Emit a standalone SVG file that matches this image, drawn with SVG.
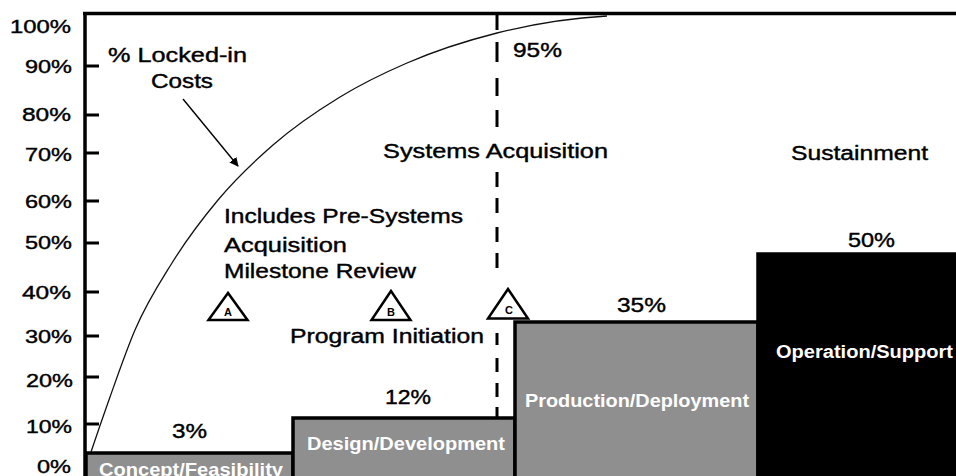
<svg xmlns="http://www.w3.org/2000/svg" width="956" height="476" viewBox="0 0 956 476">
<style>
.ax{font-family:"Liberation Sans",Arial,sans-serif;font-size:19px;fill:#000;stroke:#000;stroke-width:0.4}
.lb{font-family:"Liberation Sans",Arial,sans-serif;font-size:20px;fill:#000;stroke:#000;stroke-width:0.4}
.bl{font-family:"Liberation Sans",Arial,sans-serif;font-weight:bold;fill:#fff}
.ms{font-family:"Liberation Sans",Arial,sans-serif;font-weight:bold;font-size:11px;fill:#000;text-anchor:middle}
.bar{stroke:#000;stroke-width:3.5}
.tri{fill:#fff;stroke:#000;stroke-width:2.5;stroke-linejoin:miter}
</style>
<defs>
<marker id="ah" viewBox="0 0 10 10" refX="9" refY="5" markerWidth="9" markerHeight="9" markerUnits="userSpaceOnUse" orient="auto">
<path d="M0,0 L10,5 L0,10 z" fill="#000"/>
</marker>
</defs>
<rect width="956" height="476" fill="#fff"/>

<g id="bars">
<g id="concept"><rect class="bar" x="86" y="453" width="207" height="30" fill="#8f8f8f"/>
<text class="bl" x="99" y="476" font-size="19" textLength="184" lengthAdjust="spacingAndGlyphs">Concept/Feasibility</text></g>
<g id="design"><rect class="bar" x="293" y="418" width="222" height="65" fill="#8f8f8f"/>
<text class="bl" x="307" y="450" font-size="19" textLength="198" lengthAdjust="spacingAndGlyphs">Design/Development</text></g>
<g id="production"><rect class="bar" x="515" y="322" width="243" height="161" fill="#8f8f8f"/>
<text class="bl" x="525" y="407" font-size="18" textLength="224" lengthAdjust="spacingAndGlyphs">Production/Deployment</text></g>
<g id="operation"><rect class="bar" x="758" y="254" width="200" height="229" fill="#000"/>
<text class="bl" x="776" y="358" font-size="18" textLength="177" lengthAdjust="spacingAndGlyphs">Operation/Support</text></g>
</g>

<g id="axis" stroke="#000" stroke-width="3.5">
<line x1="85" y1="12" x2="85" y2="476"/>
<line x1="83" y1="13.5" x2="956" y2="13.5"/>
<path d="M85,66H99M85,115H99M85,153H99M85,201H99M85,243H99M85,292H99M85,336H99M85,377H99M85,424H99" stroke-width="3"/>
</g>
<g id="axis-labels">
<text class="ax" x="10" y="33" textLength="61" lengthAdjust="spacingAndGlyphs">100%</text>
<text class="ax" x="25" y="73" textLength="47" lengthAdjust="spacingAndGlyphs">90%</text>
<text class="ax" x="22" y="121" textLength="49" lengthAdjust="spacingAndGlyphs">80%</text>
<text class="ax" x="25" y="161" textLength="47" lengthAdjust="spacingAndGlyphs">70%</text>
<text class="ax" x="25" y="208" textLength="47" lengthAdjust="spacingAndGlyphs">60%</text>
<text class="ax" x="25" y="249" textLength="47" lengthAdjust="spacingAndGlyphs">50%</text>
<text class="ax" x="22" y="299" textLength="49" lengthAdjust="spacingAndGlyphs">40%</text>
<text class="ax" x="25" y="343" textLength="47" lengthAdjust="spacingAndGlyphs">30%</text>
<text class="ax" x="26" y="387" textLength="47" lengthAdjust="spacingAndGlyphs">20%</text>
<text class="ax" x="26" y="433" textLength="46" lengthAdjust="spacingAndGlyphs">10%</text>
<text class="ax" x="37" y="473" textLength="34" lengthAdjust="spacingAndGlyphs">0%</text>
</g>

<g id="curve">
<path fill="none" stroke="#111" stroke-width="1.3" d="M91,452 C97.33,433.07 103.67,414.74 110,397 C118.33,373.65 126.67,349.42 135,330 C147.33,301.27 159.67,282.9 172,263 C187.33,238.26 202.67,218.41 218,200 C236.33,177.99 254.67,160.98 273,145 C295.33,125.53 317.67,110.67 340,97 C362.33,83.33 384.67,72.67 407,63 C437,50.01 467,40.59 497,33 C533.67,23.72 570.33,18.09 607,16"/>
</g>

<g id="divider">
<path stroke="#000" stroke-width="3" fill="none" d="M497,15V30M497,42V62M497,78V96M497,110V127M497,172V187M497,198V213M497,227V242M497,253V268M497,333V345M497,358V372M497,383V397M497,407V418"/>
</g>

<g id="milestone-a"><polygon class="tri" points="228,293 208.5,320 247.5,320"/><text class="ms" x="228" y="316">A</text></g>
<g id="milestone-b"><polygon class="tri" points="391,291 371.5,320 410.5,320"/><text class="ms" x="391" y="316">B</text></g>
<g id="milestone-c"><polygon class="tri" points="508,289 488,318.5 528,318.5"/><text class="ms" x="509" y="314">C</text></g>

<g id="labels">
<text class="lb" x="108" y="62" textLength="139" lengthAdjust="spacingAndGlyphs">% Locked-in</text>
<text class="lb" x="151" y="88" textLength="62" lengthAdjust="spacingAndGlyphs">Costs</text>
<text class="lb" x="224" y="223" textLength="239" lengthAdjust="spacingAndGlyphs">Includes Pre-Systems</text>
<text class="lb" x="224" y="252" textLength="123" lengthAdjust="spacingAndGlyphs">Acquisition</text>
<text class="lb" x="224" y="278" textLength="192" lengthAdjust="spacingAndGlyphs">Milestone Review</text>
<text class="lb" x="290" y="343" textLength="194" lengthAdjust="spacingAndGlyphs">Program Initiation</text>
<text class="lb" x="383" y="158" font-size="21" textLength="225" lengthAdjust="spacingAndGlyphs">Systems Acquisition</text>
<text class="lb" x="791" y="160" textLength="137" lengthAdjust="spacingAndGlyphs">Sustainment</text>
<text class="lb" x="513" y="57" textLength="49" lengthAdjust="spacingAndGlyphs">95%</text>
<text class="lb" x="172" y="438" textLength="35" lengthAdjust="spacingAndGlyphs">3%</text>
<text class="lb" x="385" y="404" textLength="46" lengthAdjust="spacingAndGlyphs">12%</text>
<text class="lb" x="617" y="312" font-size="18" textLength="49" lengthAdjust="spacingAndGlyphs">35%</text>
<text class="lb" x="848" y="247" font-size="18" textLength="47" lengthAdjust="spacingAndGlyphs">50%</text>
</g>

<g id="connectors">
<line x1="183" y1="99" x2="238" y2="166" stroke="#000" stroke-width="1.4" marker-end="url(#ah)"/>
</g>
</svg>
